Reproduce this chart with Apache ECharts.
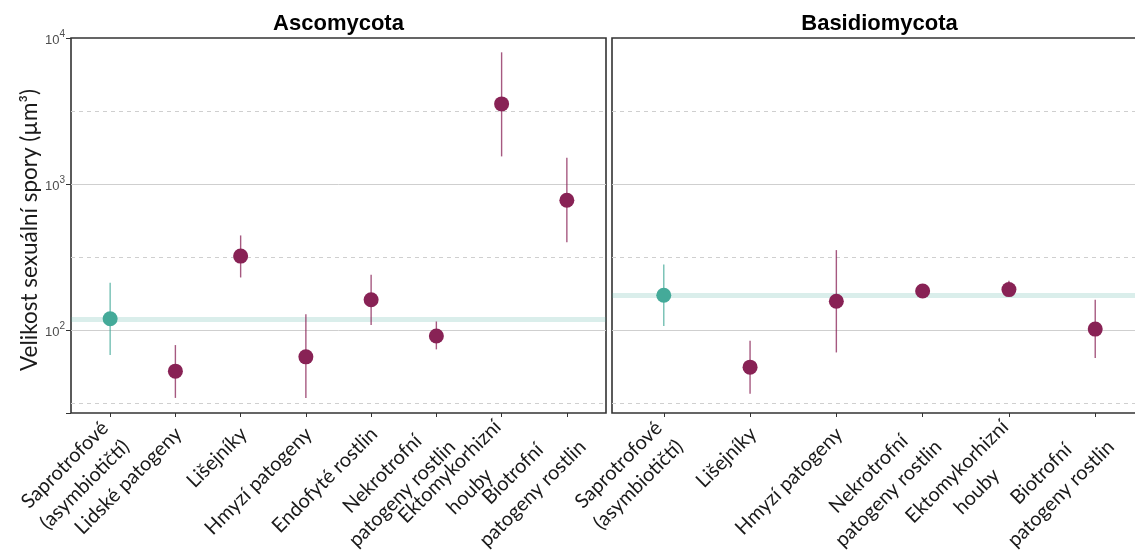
<!DOCTYPE html>
<html><head><meta charset="utf-8">
<script src="https://cdn.jsdelivr.net/npm/echarts@6/dist/echarts.min.js"></script>
<style>html,body{margin:0;padding:0;background:#fff}#chart{width:1135px;height:553px}</style>
</head><body><div id="chart"></div>
<script>
// ---------- data ----------
const panelTitles = ['Ascomycota', 'Basidiomycota'];
const ascoCategories = ['Saprotrofové\n(asymbiotičtí)', 'Lidské patogeny', 'Lišejníky', 'Hmyzí patogeny', 'Endofyté rostlin', 'Nekrotrofní\npatogeny rostlin', 'Ektomykorhizní\nhouby', 'Biotrofní\npatogeny rostlin'];
const ascoMean = [120, 52.6, 322, 65.9, 162, 91.4, 3540, 776];
const ascoLow  = [67.8, 34.5, 230, 34.5, 109, 74.1, 1549, 400];
const ascoHigh = [212, 79.3, 446, 129, 240, 115, 7980, 1517];
const basidioCategories = ['Saprotrofové\n(asymbiotičtí)', 'Lišejníky', 'Hmyzí patogeny', 'Nekrotrofní\npatogeny rostlin', 'Ektomykorhizní\nhouby', 'Biotrofní\npatogeny rostlin'];
const basidioMean = [174, 56.0, 158, 186, 190, 102];
const basidioLow  = [107, 36.9, 70.6, 176, 171, 64.6];
const basidioHigh = [282, 84.9, 354, 197, 218, 162];
const solidGridValues = [100, 1000];
const dashedGridValues = [31.62, 316.2, 3162];
const yAxisTitle = 'Velikost sexuální spory (µm³)';

// ---------- layout / style ----------
const TEAL = '#44AA99', PURPLE = '#882255';
const Y_MIN = 27.2, Y_MAX = 10000;
const TOP = 38, BOTTOM_Y = 413;
const PANEL_W = 535;
const panels = [
  {x0: 71, cats: ascoCategories, mean: ascoMean, low: ascoLow, high: ascoHigh, title: panelTitles[0]},
  {x0: 612, cats: basidioCategories, mean: basidioMean, low: basidioLow, high: basidioHigh, title: panelTitles[1]}
];
const labelFont = 'Lato, "Open Sans", sans-serif';
const X_FONT = 20, X_LH = 28, LIFT = 10;

const measureCtx = document.createElement('canvas').getContext('2d');
function textWidth(s) { measureCtx.font = X_FONT + 'px Lato'; return measureCtx.measureText(s).width; }
// multi-line labels: lines centred within the block, block right-aligned at the tick
function xLabelRich(cats) {
  const rich = {};
  cats.forEach((c, i) => {
    const lines = c.split('\n');
    const W = Math.ceil(Math.max(...lines.map(textWidth))) + 1;
    const base = {width: W, align: 'center', fontFamily: labelFont, fontSize: X_FONT, color: '#1a1a1a'};
    if (lines.length > 1) {
      rich['a' + i] = Object.assign({}, base, {lineHeight: X_LH - 2 * LIFT});
      rich['b' + i] = Object.assign({}, base, {lineHeight: X_LH + 2 * LIFT});
    } else {
      rich['a' + i] = Object.assign({}, base, {lineHeight: X_LH});
    }
  });
  return rich;
}
function xLabelFormatter(v, i) {
  const lines = v.split('\n');
  return lines.map((l, j) => '{' + (j === 0 ? 'a' : 'b') + i + '|' + l + '}').join('\n');
}

const grid = [], xAxis = [], yAxis = [], series = [], title = [];
panels.forEach((p, k) => {
  const w = PANEL_W, h = BOTTOM_Y - TOP;
  const n = p.cats.length;
  const unit = w / (n + 0.2);
  grid.push({left: p.x0, top: TOP, width: w, height: h, show: true, borderColor: '#333', borderWidth: 1.6,
    backgroundColor: 'transparent', containLabel: false, outerBoundsMode: 'none'});
  grid.push({left: p.x0 + 0.1 * unit, top: TOP, width: n * unit, height: h, show: false,
    containLabel: false, outerBoundsMode: 'none'});
  const go = 2 * k, gi = 2 * k + 1;
  xAxis.push({gridIndex: go, type: 'value', min: 0, max: 1, show: false});
  xAxis.push({
    gridIndex: gi, type: 'category', data: p.cats,
    axisLine: {show: false},
    axisTick: {show: true, alignWithLabel: true, length: 4, lineStyle: {color: '#333', width: 1}},
    axisLabel: {interval: 0, rotate: 45, align: 'right', verticalAlign: 'top', margin: 1,
      padding: [0, 9, 0, 0],
      fontFamily: labelFont, fontSize: X_FONT, lineHeight: X_LH, color: '#1a1a1a',
      formatter: xLabelFormatter,
      rich: xLabelRich(p.cats)}
  });
  yAxis.push({
    gridIndex: go, type: 'log', logBase: 10, min: Y_MIN, max: Y_MAX,
    name: k === 0 ? yAxisTitle : '', nameLocation: 'middle', nameGap: 30, nameRotate: 90,
    nameTextStyle: {fontFamily: labelFont, fontSize: 22.5, color: '#1a1a1a', padding: [0, 9, 0, 0]},
    axisLine: {show: false},
    splitLine: {show: false},
    axisTick: {show: k === 0, length: 5, lineStyle: {color: '#333'}},
    axisLabel: {show: k === 0, margin: 6,
      formatter: v => {
        const e = Math.log10(v), r = Math.round(e);
        return Math.abs(e - r) < 1e-6 ? '{b|10}{s|' + r + '}' : '';
      },
      rich: {
        b: {fontFamily: 'Liberation Sans, Arial, sans-serif', fontSize: 13, color: '#4d4d4d', lineHeight: 18, verticalAlign: 'bottom'},
        s: {fontFamily: 'Liberation Sans, Arial, sans-serif', fontSize: 10, color: '#4d4d4d', lineHeight: 11, verticalAlign: 'top'}
      }
    }
  });
  yAxis.push({gridIndex: gi, type: 'log', logBase: 10, min: Y_MIN, max: Y_MAX, show: false, splitLine: {show: false}});

  const mlData = [];
  solidGridValues.forEach(v => mlData.push({yAxis: v, lineStyle: {color: '#cfcfcf', width: 1, type: 'solid'}}));
  dashedGridValues.forEach(v => mlData.push({yAxis: v, lineStyle: {color: '#cfcfcf', width: 1, type: [4, 4]}}));
  series.push({
    type: 'scatter', xAxisIndex: go, yAxisIndex: go, data: [], z: 1, silent: true,
    markLine: {z: 1, silent: true, symbol: 'none', label: {show: false}, animation: false, data: mlData}
  });
  series.push({
    type: 'scatter', xAxisIndex: go, yAxisIndex: go, data: [], z: 2, silent: true,
    markLine: {z: 2, silent: true, symbol: 'none', label: {show: false}, animation: false,
      data: [{yAxis: p.mean[0], lineStyle: {color: 'rgba(68,170,153,0.2)', width: 5, type: 'solid'}}]}
  });
  series.push({
    type: 'custom', xAxisIndex: gi, yAxisIndex: gi, z: 3, silent: true,
    data: p.cats.map((c, i) => [i, p.low[i], p.high[i]]),
    encode: {x: 0, y: [1, 2]},
    renderItem: (params, api) => {
      const i = api.value(0);
      const a = api.coord([i, api.value(1)]);
      const b = api.coord([i, api.value(2)]);
      return {type: 'line', shape: {x1: a[0], y1: a[1], x2: b[0], y2: b[1]},
        style: {stroke: i === 0 ? TEAL : PURPLE, lineWidth: 1.4, opacity: 0.75}};
    }
  });
  series.push({
    type: 'scatter', xAxisIndex: gi, yAxisIndex: gi, z: 4, symbolSize: 15, silent: true,
    data: p.mean.map((v, i) => ({value: [i, v], itemStyle: {color: i === 0 ? TEAL : PURPLE, opacity: 1}}))
  });
  title.push({text: p.title, left: p.x0 + w / 2, top: 13, textAlign: 'center', padding: 0,
    textStyle: {fontFamily: 'Liberation Sans, Arial, sans-serif', fontWeight: 'bold', fontSize: 22, color: '#000'}});
});

const chart = echarts.init(document.getElementById('chart'), null, {renderer: 'canvas'});
chart.setOption({backgroundColor: '#fff', animation: false, title, grid, xAxis, yAxis, series});
</script>
</body></html>
